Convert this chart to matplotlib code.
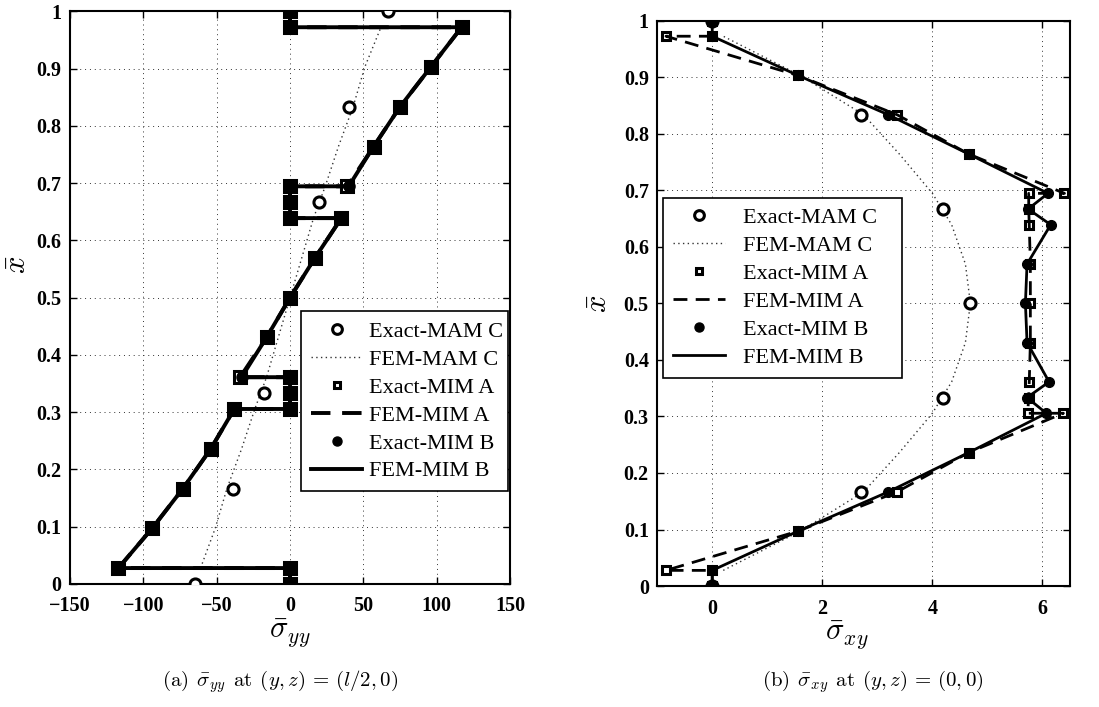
import matplotlib
matplotlib.use("Agg")
import matplotlib.pyplot as plt
from matplotlib.ticker import FuncFormatter, MultipleLocator

plt.rcParams['mathtext.fontset'] = 'cm'
plt.rcParams['font.family'] = ['Liberation Serif', 'DejaVu Serif']

# ---------------- data: panel (a) sigma_yy ----------------
xbar_path_a = [0.0, 0.0278, 0.0278, 0.0972, 0.1667, 0.2361, 0.3056, 0.3056, 0.3333, 0.3611,
               0.3611, 0.4306, 0.5, 0.5694, 0.6389, 0.6389, 0.6667, 0.6944, 0.6944, 0.7639,
               0.8333, 0.9028, 0.9722, 0.9722, 1.0]
syy_mim_a = [0, 0, -117, -94, -73, -54, -38, 0, 0, 0,
             -34, -16, 0, 17, 35, 0, 0, 0, 39, 57,
             75, 96, 117, 0, 0]
syy_mim_b = [0, 0, -117, -94, -73, -54, -38, 0, 0, 0,
             -33, -16, 0, 17, 35, 0, 0, 0, 40, 57,
             75, 96, 117, 0, 0]
xbar_mam = [0.0, 0.1667, 0.3333, 0.5, 0.6667, 0.8333, 1.0]
syy_mam_exact = [-65, -38.6, -17.7, 0, 19.8, 40, 66.6]
xbar_mam_fem = [0.0278, 0.0972, 0.1667, 0.2361, 0.3056, 0.3611, 0.4306, 0.5,
                0.5694, 0.6389, 0.6944, 0.7639, 0.8333, 0.9028, 0.9722]
syy_mam_fem = [-61, -51, -43, -33, -24, -16, -8, 0, 8, 16, 24, 33, 43, 51, 62]

# ---------------- data: panel (b) sigma_xy ----------------
xbar_path_A = [0.0, 0.0278, 0.0278, 0.0972, 0.1667, 0.2361, 0.3056, 0.3056, 0.3333, 0.3611,
               0.4306, 0.5, 0.5694, 0.6389, 0.6667, 0.6944, 0.6944, 0.7639, 0.8333, 0.9028,
               0.9722, 0.9722, 1.0]
sxy_mim_a = [0, 0, -0.84, 1.56, 3.36, 4.66, 6.38, 5.73, 5.75, 5.76,
             5.78, 5.78, 5.78, 5.76, 5.75, 5.75, 6.4, 4.66, 3.36, 1.56,
             -0.84, 0, 0]
xbar_path_B = [0.0, 0.0278, 0.0972, 0.1667, 0.2361, 0.3056, 0.3333, 0.3611, 0.4306, 0.5,
               0.5694, 0.6389, 0.6667, 0.6944, 0.7639, 0.8333, 0.9028, 0.9722, 1.0]
sxy_mim_b = [0, 0, 1.56, 3.2, 4.66, 6.07, 5.72, 6.12, 5.72, 5.69,
             5.72, 6.15, 5.74, 6.1, 4.66, 3.2, 1.56, 0, 0]
sxy_mam_exact = [0, 2.7, 4.2, 4.69, 4.2, 2.7, 0]
sxy_mam_fem = [0.2, 1.6, 2.75, 3.4, 4.0, 4.35, 4.6, 4.69, 4.6, 4.35, 4.0, 3.4, 2.75, 1.6, 0.2]

labels = ['Exact-MAM C', 'FEM-MAM C', 'Exact-MIM A', 'FEM-MIM A', 'Exact-MIM B', 'FEM-MIM B']

fig = plt.figure(figsize=(10.99, 7.07), dpi=100)
ax1 = fig.add_axes([0.0637, 0.174, 0.4004, 0.810])
ax2 = fig.add_axes([0.598, 0.171, 0.3756, 0.800])

tick_fp = matplotlib.font_manager.FontProperties(family='Liberation Serif', weight='bold', size=14.5)


def draw(ax, xm, xmf, ypA, ypB, mam_e, mam_f, mimA, mimB, sq_ms, circ_ms, lw):
    ax.plot(mam_e, xm, linestyle='none', marker='o', ms=8, mfc='white', mec='k', mew=2.2,
            label=labels[0], zorder=3)
    ax.plot(mam_f, xmf, color='0.2', lw=1.0, dashes=(1, 2.4), label=labels[1], zorder=2)
    ax.plot(mimA, ypA, linestyle='none', marker='s', ms=sq_ms, mfc='white', mec='k', mew=2.2,
            label=labels[2], zorder=4)
    ax.plot(mimA, ypA, color='k', lw=lw, dashes=(5, 3), label=labels[3], zorder=4)
    ax.plot(mimB, ypB, linestyle='none', marker='o', ms=circ_ms, mfc='k', mec='k',
            label=labels[4], zorder=5)
    ax.plot(mimB, ypB, color='k', lw=lw, label=labels[5], zorder=5)

    ax.set_ylim(0, 1)
    ax.yaxis.set_major_locator(MultipleLocator(0.1))
    ax.yaxis.set_major_formatter(FuncFormatter(lambda v, p: '%g' % round(v, 2)))
    ax.grid(True, color='0.2', lw=0.7, dashes=(1, 4))
    ax.tick_params(direction='in', top=True, right=True, length=5, width=1)
    ax.tick_params(axis='x', pad=9)
    ax.tick_params(axis='y', pad=6)
    for s in ax.spines.values():
        s.set_linewidth(1.5)


draw(ax1, xbar_mam, xbar_mam_fem, xbar_path_a, xbar_path_a,
     syy_mam_exact, syy_mam_fem, syy_mim_a, syy_mim_b, 9, 8, 2.8)
ax1.set_xlim(-150, 150)
ax1.xaxis.set_major_locator(MultipleLocator(50))

draw(ax2, xbar_mam, xbar_mam_fem, xbar_path_A, xbar_path_B,
     sxy_mam_exact, sxy_mam_fem, sxy_mim_a, sxy_mim_b, 5.5, 7, 2.0)
ax2.set_xlim(-1, 6.5)
ax2.set_xticks([0, 2, 4, 6])

for ax in (ax1, ax2):
    for lab in ax.get_xticklabels() + ax.get_yticklabels():
        lab.set_fontproperties(tick_fp)

ax1.set_xlabel(r'$\bar{\sigma}_{yy}$', fontsize=22)
ax1.xaxis.set_label_coords(0.5, -0.058)
ax1.set_ylabel(r'$\bar{x}$', fontsize=22)
ax1.yaxis.set_label_coords(-0.085, 0.557)
ax2.set_xlabel(r'$\bar{\sigma}_{xy}$', fontsize=22)
ax2.xaxis.set_label_coords(0.46, -0.058)
ax2.set_ylabel(r'$\bar{x}$', fontsize=22)
ax2.yaxis.set_label_coords(-0.105, 0.5)

leg_kw = dict(loc='upper left', mode='expand', fontsize=16, handlelength=2.3,
              labelspacing=0.33, borderaxespad=0.0, fancybox=False,
              framealpha=1, edgecolor='k', borderpad=0.45)
l1 = ax1.legend(bbox_to_anchor=(0.525, 0.148, 0.47, 0.328), handletextpad=0.3, **leg_kw)
l2 = ax2.legend(bbox_to_anchor=(0.015, 0.364, 0.578, 0.323), handletextpad=0.85, **leg_kw)
for lg in (l1, l2):
    lg.get_frame().set_linewidth(1.2)
    lg.set_zorder(10)
    hs = lg.legend_handles
    hs[0].set_markersize(7)
    hs[2].set_markersize(5)
    hs[2].set_markeredgewidth(2.2)
    hs[4].set_markersize(6.5)

fig.text(280 / 1099, 1 - 682 / 707,
         r'$\mathrm{(a)}\;\,\bar{\sigma}_{yy}\;\,\mathrm{at}\;\,(y,z)\,=\,(l/2,0)$',
         ha='center', va='center', fontsize=15)
fig.text(873 / 1099, 1 - 682 / 707,
         r'$\mathrm{(b)}\;\,\bar{\sigma}_{xy}\;\,\mathrm{at}\;\,(y,z)\,=\,(0,0)$',
         ha='center', va='center', fontsize=15)

fig.savefig('out.png', dpi=100)
